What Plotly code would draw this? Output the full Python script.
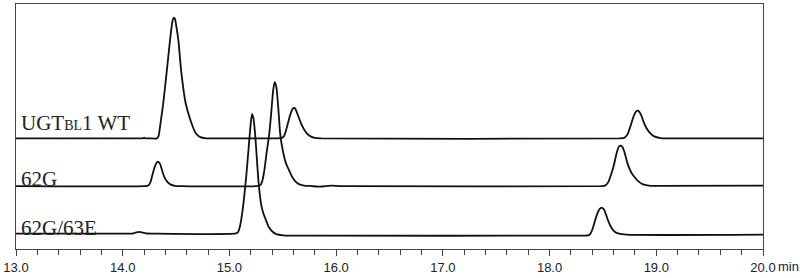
import plotly.graph_objects as go

# Retention time (min) and signal above each trace's own baseline (arbitrary units)
wt_time = [13.0, 14.15, 14.19, 14.20, 14.21, 14.25, 14.32, 14.335, 14.35, 14.378, 14.412, 14.444, 14.462,
           14.472, 14.481, 14.49, 14.50, 14.521, 14.549, 14.589, 14.636, 14.683, 14.727, 14.78, 14.9,
           15.45, 15.49, 15.51, 15.53, 15.55, 15.57, 15.59, 15.605, 15.62, 15.64, 15.67, 15.70,
           15.73, 15.76, 15.80, 15.86,
           18.65, 18.70, 18.73, 18.76, 18.79, 18.81, 18.825, 18.84, 18.86, 18.88, 18.91, 18.945,
           18.98, 19.04, 19.1, 20.0]
wt_signal = [0, 0, 0, 0.8, 0, 0, 0, 2, 12, 34, 67, 100, 116,
             121, 122.3, 121, 115, 100, 67, 36, 18, 5.5, 1.2, 0, 0,
             0, 0.5, 2, 8, 16, 24, 29.5, 31, 29.5, 24, 15.5, 9,
             4.5, 2, 0.5, 0,
             0, 0.5, 4, 13, 23, 27, 28, 27, 23, 17, 10, 5,
             2, 0.3, 0, 0]

g62_time = [13.0, 14.20, 14.24, 14.26, 14.28, 14.30, 14.32, 14.333, 14.35, 14.37, 14.39, 14.42, 14.45,
            14.49, 14.55,
            15.25, 15.29, 15.31, 15.33, 15.35, 15.373, 15.39, 15.41, 15.424, 15.44, 15.46, 15.476,
            15.50, 15.53, 15.555, 15.59, 15.62, 15.65, 15.70, 15.77, 15.85, 15.95, 16.05,
            18.48, 18.52, 18.55, 18.58, 18.60, 18.63, 18.65, 18.665, 18.68, 18.70, 18.72, 18.74,
            18.77, 18.79, 18.83, 18.87, 18.93, 19.0, 20.0]
g62_signal = [0, 0, 0.5, 4, 12, 19.5, 24, 24.6, 22.5, 15.5, 9, 4, 1.5,
              0.3, 0,
              0, 1, 6, 18, 35, 52.6, 72, 97, 105.3, 100, 76, 52.6,
              36, 23, 17, 9, 4.5, 2, 0.5, 0, -0.6, 0.4, 0,
              0, 0.5, 4, 13, 20, 34, 40, 41, 40, 35, 27, 20,
              13, 10, 5, 2, 0.5, 0.2, 0.4]

g62_63_time = [13.0, 14.05, 14.08, 14.12, 14.155, 14.19, 14.23, 14.3, 15.06,
               15.08, 15.10, 15.12, 15.14, 15.16, 15.18, 15.20, 15.212, 15.225, 15.24, 15.25,
               15.26, 15.27, 15.28, 15.29, 15.30, 15.32, 15.336, 15.37, 15.40, 15.44, 15.5, 15.6,
               15.75, 15.8,
               18.30, 18.36, 18.38, 18.40, 18.423, 18.44, 18.46, 18.48, 18.492, 18.51, 18.53,
               18.553, 18.58, 18.61, 18.65, 18.72, 20.0]
g62_63_signal = [1, 1, 1, 2, 2.8, 2, 1.2, 1, 1.2,
                 2.5, 9, 22, 40, 62, 88, 113, 122, 118, 103, 88,
                 72, 57, 45, 36, 29, 21, 16.5, 7.5, 3.5, 0.5, -0.7, -1,
                 -1, -1,
                 -1, -0.8, 0.5, 5, 13, 19, 24.5, 27, 27.2, 25.5, 20,
                 13, 7, 3, 1, 0, 0]

trace_names = ["UGT<span style='font-size:14px'>BL</span>1 WT", "62G", "62G/63E"]
trace_offsets = [112, 63.7, 14.5]
label_heights = [127.5, 70.5, 21.5]

x_ticks = [13.0, 14.0, 15.0, 16.0, 17.0, 18.0, 19.0, 20.0]
x_tick_text = ["13.0", "14.0", "15.0", "16.0", "17.0", "18.0", "19.0", "20.0"]

series = [(wt_time, wt_signal), (g62_time, g62_signal), (g62_63_time, g62_63_signal)]

fig = go.Figure()
for (t, s), off in zip(series, trace_offsets):
    fig.add_trace(go.Scatter(
        x=t, y=[v + off for v in s], mode="lines",
        line=dict(color="#111111", width=1.8, shape="spline", smoothing=0.6),
        showlegend=False, hoverinfo="skip"))

for name, h in zip(trace_names, label_heights):
    fig.add_annotation(x=13.0, y=h, xref="x", yref="y", text=name, showarrow=False,
                       xanchor="left", yanchor="middle", xshift=3,
                       font=dict(family="Liberation Serif", size=21, color="#222222"))

fig.add_annotation(x=20.0, y=0, xref="x", yref="paper", text="min", showarrow=False,
                   xanchor="left", yanchor="top", xshift=13, yshift=-8,
                   font=dict(family="Liberation Sans", size=13, color="#222222"))

fig.update_xaxes(range=[13.0, 20.0], tickvals=x_ticks, ticktext=x_tick_text,
                 showline=True, mirror=True, linecolor="#444444", linewidth=1,
                 ticks="outside", ticklen=6, tickcolor="#444444", tickwidth=1,
                 minor=dict(dtick=0.2, tick0=13.0, ticks="outside", ticklen=5,
                            tickcolor="#444444", tickwidth=1, showgrid=False),
                 showgrid=False, zeroline=False,
                 tickfont=dict(family="Liberation Sans", size=13, color="#222222"))
fig.update_yaxes(range=[0, 248], showline=True, mirror=True, linecolor="#444444", linewidth=1,
                 showticklabels=False, ticks="", showgrid=False, zeroline=False)

fig.update_layout(width=800, height=278, margin=dict(l=13, r=37, t=3, b=27),
                  plot_bgcolor="white", paper_bgcolor="white")

fig.write_html("out.html")
